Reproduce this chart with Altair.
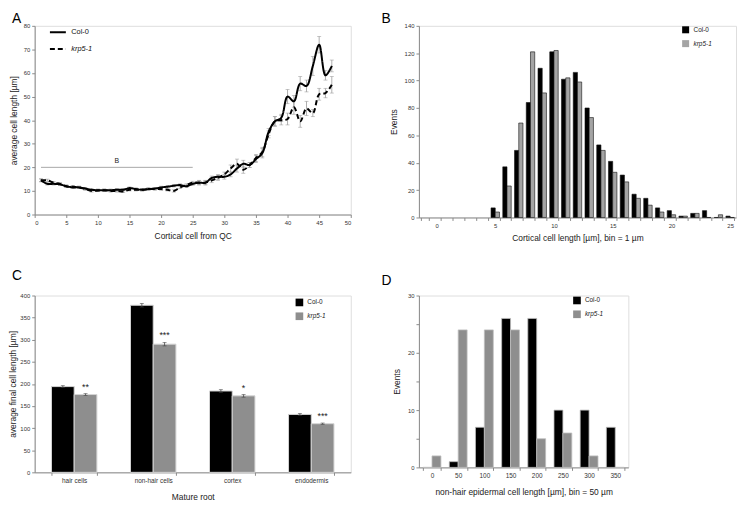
import altair as alt
import pandas as pd

FONT = "Liberation Sans"
SERIES = ["Col-0", "krp5-1"]
ITALIC = alt.ExprRef(expr="datum.label == 'krp5-1' ? 'italic' : 'normal'")

# ---------------- Panel A data ----------------
cell_pos = list(range(1, 48))
col_A = [14.5, 13, 13, 12.8, 12, 11.5, 11.5, 11, 10.5, 10.3, 10.3, 10.3, 10.5, 10.5, 11.2,
         10.8, 10.5, 10.8, 11, 11.5, 11.8, 12.2, 12.5, 12, 13, 13.5, 13.5, 15.5, 16, 16,
         17, 19.5, 21.5, 21, 23.5, 26, 35, 39.5, 41, 50, 48, 55.5, 54.5, 63, 72, 59, 63]
krp_A = [14.5, 14.5, 13.5, 13, 12, 11.8, 11.5, 10.8, 10, 10.2, 10.3, 10, 10, 9.8, 10.5,
         10.5, 10.5, 10.8, 10.8, 10.8, 10.5, 10, 11.5, 12.5, 13.5, 13.5, 13.5, 14.5, 15.5, 17,
         19.5, 21.5, 19, 21, 24, 26.5, 34, 39.5, 40, 40.5, 45.5, 39.5, 45, 43, 51, 51.5, 55]
col_A_err = [0.6, 0.5, 0.5, 0.5, 0.5, 0.5, 0.5, 0.5, 0.5, 0.5, 0.5, 0.5, 0.5, 0.5, 0.5,
             0.5, 0.5, 0.5, 0.5, 0.5, 0.5, 0.5, 0.5, 0.5, 0.6, 0.8, 0.8, 0.8, 1, 1,
             1, 1.5, 1.5, 1, 1.5, 2, 1.5, 2, 1.5, 3, 2.5, 3, 2.5, 4, 3.5, 2, 2.5]
krp_A_err = [0.6, 0.5, 0.5, 0.5, 0.5, 0.5, 0.5, 0.5, 0.5, 0.5, 0.5, 0.5, 0.5, 0.5, 0.5,
             0.5, 0.5, 0.5, 0.5, 0.5, 0.5, 0.5, 0.5, 0.5, 0.6, 1, 1, 1, 1, 1,
             1.5, 2, 1.5, 1, 1.5, 2, 1.5, 2, 2, 2.5, 3, 2.5, 3, 1.5, 2.5, 2, 3.5]
ref_start, ref_end, ref_level, ref_label = [1], [25], [20], ["B"]

# ---------------- Panel B data ----------------
bins_B = list(range(5, 26))
axis_bins_B = list(range(-1, 26))
col_B = [7, 37, 49, 84, 109, 121, 101, 106, 80, 53, 41, 31, 17, 14, 7, 5, 1, 3, 5, 0, 1]
krp_B = [4, 23, 69, 121, 91, 122, 102, 99, 73, 49, 33, 26, 14, 9, 4, 2, 1, 3, 0, 2, 0]

# ---------------- Panel C data ----------------
cats_C = ["hair cells", "non-hair cells", "cortex", "endodermis"]
col_C = [194, 378, 184, 131]
krp_C = [176, 290, 173, 110]
col_C_err = [2, 4, 3, 2]
krp_C_err = [2, 4, 3, 1.5]
sig_C = ["**", "***", "*", "***"]

# ---------------- Panel D data ----------------
bins_D = [0, 50, 100, 150, 200, 250, 300, 350]
col_D = [0, 1, 7, 26, 26, 10, 10, 7]
krp_D = [2, 24, 24, 24, 5, 6, 2, 0]

AX = dict(grid=False, domainColor="#8a8a8a", tickColor="#8a8a8a", tickSize=3,
          labelColor="#333333", labelFont=FONT, labelFontSize=6, labelOverlap=False,
          titleFont=FONT, titleFontSize=8.5, titleFontWeight="normal", titleColor="#222222")


def letter(t, dx, offset):
    return alt.TitleParams(text=t, anchor="start", frame="group", dx=dx, offset=offset,
                           fontSize=14, fontWeight="normal", font=FONT, color="black")


# ================= Panel A =================
dfA = pd.DataFrame({
    "cell": cell_pos + cell_pos,
    "length": col_A + krp_A,
    "err": col_A_err + krp_A_err,
    "line": [SERIES[0]] * len(cell_pos) + [SERIES[1]] * len(cell_pos),
})
refA = pd.DataFrame({"x": ref_start, "x2": ref_end, "y": ref_level, "label": ref_label})

scXA = alt.Scale(domain=[0, 50], nice=False)
scYA = alt.Scale(domain=[0, 80], nice=False)
axXA = alt.Axis(values=list(range(0, 51, 5)), title="Cortical cell from QC", titlePadding=6, **AX)
axYA = alt.Axis(values=list(range(0, 81, 10)), title="average cell length [µm]",
                titlePadding=5, **AX)


def xa(f):
    return alt.X(f, scale=scXA, axis=axXA)


def ya(f):
    return alt.Y(f, scale=scYA, axis=axYA)


baseA = alt.Chart(dfA).transform_calculate(lo="datum.length - datum.err",
                                           hi="datum.length + datum.err")
errA = baseA.mark_rule(color="#9a9a9a", strokeWidth=0.8).encode(
    x=xa("cell:Q"), y=ya("lo:Q"), y2="hi:Q")
capA_hi = baseA.mark_tick(color="#9a9a9a", orient="horizontal", size=4, thickness=0.8).encode(
    x=xa("cell:Q"), y=ya("hi:Q"))
capA_lo = baseA.mark_tick(color="#9a9a9a", orient="horizontal", size=4, thickness=0.8).encode(
    x=xa("cell:Q"), y=ya("lo:Q"))
linesA = alt.Chart(dfA).mark_line(color="black", strokeWidth=2, interpolate="catmull-rom").encode(
    x=xa("cell:Q"), y=ya("length:Q"),
    strokeDash=alt.StrokeDash("line:N", scale=alt.Scale(domain=SERIES, range=[[1, 0], [5, 3]]),
                              legend=alt.Legend(title=None, orient="none", legendX=14, legendY=-3,
                                                symbolType="stroke", symbolStrokeColor="black",
                                                symbolStrokeWidth=2, symbolSize=260,
                                                labelFont=FONT, labelFontSize=7.5,
                                                labelColor="#111111", labelFontStyle=ITALIC,
                                                rowPadding=3)))
refRule = alt.Chart(refA).mark_rule(color="#a8a8a8", strokeWidth=1).encode(
    x=xa("x:Q"), x2="x2:Q", y=ya("y:Q"))
refText = alt.Chart(refA).transform_calculate(mid="(datum.x + datum.x2) / 2").mark_text(
    font=FONT, fontSize=7, dy=-6, color="#222222").encode(
    x=xa("mid:Q"), y=ya("y:Q"), text="label:N")

A = alt.layer(refRule, refText, errA, capA_hi, capA_lo, linesA).properties(
    width=320, height=191, title=letter("A", -23, -3))

# ================= Panel B =================
dfB = pd.DataFrame({
    "bin": bins_B + bins_B,
    "events": col_B + krp_B,
    "series": [SERIES[0]] * len(bins_B) + [SERIES[1]] * len(bins_B),
})
B = alt.Chart(dfB).mark_bar(stroke="#111111", strokeWidth=0.6).encode(
    x=alt.X("bin:O", scale=alt.Scale(domain=axis_bins_B, paddingInner=0.28, paddingOuter=0.14),
            axis=alt.Axis(title="Cortical cell length [µm], bin = 1 µm", labelAngle=0,
                          tickBand="extent", labelExpr="datum.value % 5 == 0 ? datum.label : ''",
                          titlePadding=5, **AX)),
    xOffset=alt.XOffset("series:N", sort=SERIES, scale=alt.Scale(paddingInner=0, paddingOuter=0)),
    y=alt.Y("events:Q", scale=alt.Scale(domain=[0, 140], nice=False),
            axis=alt.Axis(values=list(range(0, 141, 20)), title="Events", titlePadding=6, **AX)),
    color=alt.Color("series:N", scale=alt.Scale(domain=SERIES, range=["#000000", "#a4a4a4"]),
                    legend=alt.Legend(title=None, orient="none", legendX=266, legendY=0,
                                      symbolType="square", symbolSize=50, symbolStrokeWidth=0,
                                      labelFont=FONT, labelFontSize=6.5, labelColor="#222222",
                                      labelFontStyle=ITALIC, rowPadding=6)),
).properties(width=321, height=194, title=letter("B", -38, -3))

# ================= Panel C =================
dfC = pd.DataFrame({
    "cat": cats_C + cats_C,
    "value": col_C + krp_C,
    "err": col_C_err + krp_C_err,
    "sig": [""] * len(cats_C) + sig_C,
    "series": [SERIES[0]] * len(cats_C) + [SERIES[1]] * len(cats_C),
})
xC = alt.X("cat:N", sort=cats_C, scale=alt.Scale(paddingInner=0.425, paddingOuter=0.2125),
           axis=alt.Axis(title="Mature root", labelAngle=0, tickBand="extent", titlePadding=9,
                         **{**AX, "labelFontSize": 6.5}))
xoC = alt.XOffset("series:N", sort=SERIES, scale=alt.Scale(paddingInner=0, paddingOuter=0))
scYC = alt.Scale(domain=[0, 400], nice=False)
axYC = alt.Axis(values=list(range(0, 401, 50)), title="average final cell length [µm]",
                titlePadding=2, **AX)


def yc(f):
    return alt.Y(f, scale=scYC, axis=axYC)


baseC = alt.Chart(dfC).transform_calculate(lo="datum.value - datum.err",
                                           hi="datum.value + datum.err")
barsC = alt.Chart(dfC).mark_bar(stroke="#d4d4d4", strokeWidth=1).encode(
    x=xC, xOffset=xoC, y=yc("value:Q"),
    color=alt.Color("series:N", scale=alt.Scale(domain=SERIES, range=["#000000", "#8e8e8e"]),
                    legend=alt.Legend(title=None, orient="none", legendX=264, legendY=3,
                                      symbolType="square", symbolSize=60, symbolStrokeWidth=0,
                                      labelFont=FONT, labelFontSize=6.5, labelColor="#222222",
                                      labelFontStyle=ITALIC, rowPadding=6)))
errC = baseC.mark_rule(color="#444444", strokeWidth=0.8).encode(
    x=xC, xOffset=xoC, y=yc("lo:Q"), y2="hi:Q")
capC1 = baseC.mark_tick(color="#444444", orient="horizontal", size=4, thickness=0.8).encode(
    x=xC, xOffset=xoC, y=yc("hi:Q"))
capC2 = baseC.mark_tick(color="#444444", orient="horizontal", size=4, thickness=0.8).encode(
    x=xC, xOffset=xoC, y=yc("lo:Q"))
sigC = baseC.mark_text(font=FONT, fontSize=9, dy=-7, color="#222222").encode(
    x=xC, xOffset=xoC, y=yc("hi:Q"), text="sig:N")
C = alt.layer(barsC, errC, capC1, capC2, sigC).properties(
    width=320, height=179, title=letter("C", -23, 10))

# ================= Panel D =================
dfD = pd.DataFrame({
    "bin": bins_D + bins_D,
    "events": col_D + krp_D,
    "series": [SERIES[0]] * len(bins_D) + [SERIES[1]] * len(bins_D),
})
D = alt.Chart(dfD).mark_bar(stroke="#bdbdbd", strokeWidth=0.8).encode(
    x=alt.X("bin:O", sort=bins_D, scale=alt.Scale(paddingInner=0.32, paddingOuter=0.16),
            axis=alt.Axis(title="non-hair epidermal cell length [µm], bin = 50 µm", labelAngle=0,
                          tickBand="extent", titlePadding=9, **{**AX, "labelFontSize": 6.5})),
    xOffset=alt.XOffset("series:N", sort=SERIES, scale=alt.Scale(paddingInner=0, paddingOuter=0)),
    y=alt.Y("events:Q", scale=alt.Scale(domain=[0, 30], nice=False),
            axis=alt.Axis(values=list(range(0, 31, 5)), title="Events", titlePadding=6,
                          labelExpr="datum.value % 10 == 0 ? datum.label : ''", **AX)),
    color=alt.Color("series:N", scale=alt.Scale(domain=SERIES, range=["#000000", "#8e8e8e"]),
                    legend=alt.Legend(title=None, orient="none", legendX=156, legendY=1,
                                      symbolType="square", symbolSize=60, symbolStrokeWidth=0,
                                      labelFont=FONT, labelFontSize=6.5, labelColor="#222222",
                                      labelFontStyle=ITALIC, rowPadding=6)),
).properties(width=212, height=174, title=letter("D", -38, 5))

chart = alt.concat(A, B, C, D, columns=2, spacing={"row": 79, "column": 69},
                   bounds="flush").resolve_scale(
    color="independent", strokeDash="independent", x="independent", y="independent",
    xOffset="independent").properties(
    padding=0, background="white").configure_view(stroke=None).configure(font=FONT)

chart.save("out.html", embed_options={"renderer": "svg", "actions": False})
